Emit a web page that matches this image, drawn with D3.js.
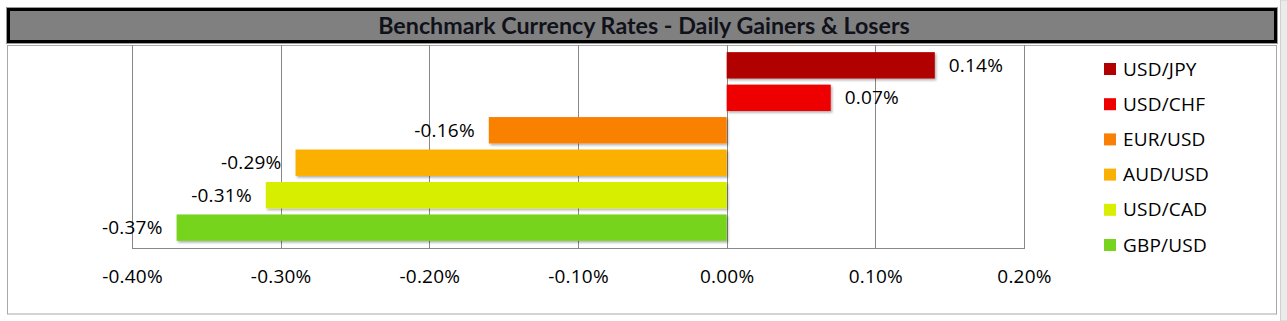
<!DOCTYPE html>
<html><head><meta charset="utf-8">
<script src="https://cdn.jsdelivr.net/npm/d3@7"></script>
<style>body{margin:0;background:#fff;overflow:hidden;} svg{display:block;}</style>
</head><body><svg id="chart" width="1287" height="321"></svg>
<script>
// ---- data ----
const title = "Benchmark Currency Rates - Daily Gainers & Losers";
const categories = ["USD/JPY", "USD/CHF", "EUR/USD", "AUD/USD", "USD/CAD", "GBP/USD"];
const values = [0.14, 0.07, -0.16, -0.29, -0.31, -0.37];   // percent
const colors = ["#B00000", "#EE0000", "#FA8005", "#FBB005", "#D8EE05", "#76D41E"];
const tickValues = [-0.40, -0.30, -0.20, -0.10, 0.00, 0.10, 0.20];

const TFONT = "Lato, 'Open Sans', sans-serif";
const FONT = "'Open Sans', 'Noto Sans', sans-serif";
const FS = 19;
const svg = d3.select("#chart");
const fmt = v => d3.formatLocale({decimal: ".", thousands: ",", grouping: [3], currency: ["", ""], minus: "-"}).format(".2f")(v) + "%";

// background pieces
svg.append("rect").attr("x", 1280.5).attr("y", 0).attr("width", 7).attr("height", 321)
  .attr("fill", "#ebebeb").attr("stroke", "#d0d0d0").attr("stroke-width", 1);
svg.append("rect").attr("x", 7.5).attr("y", 45.5).attr("width", 1269).attr("height", 268.5)
  .attr("fill", "#fff").attr("stroke", "#a8a8a8").attr("stroke-width", 1);

// title box
svg.append("rect").attr("x", 6.5).attr("y", 7.5).attr("width", 1271).attr("height", 36)
  .attr("fill", "none").attr("stroke", "#9a9a9a").attr("stroke-width", 1);
svg.append("rect").attr("x", 8.5).attr("y", 9.5).attr("width", 1267).attr("height", 32)
  .attr("fill", "#808080").attr("stroke", "#000").attr("stroke-width", 3);
const t = svg.append("text").attr("x", 644).attr("y", 26).attr("dy", "0.35em")
  .attr("text-anchor", "middle").attr("font-family", TFONT).attr("font-weight", "bold")
  .attr("font-size", 18).attr("fill", "#10121a").text(title);
// fit title width to reference (~532px)
const tw = t.node().getComputedTextLength();
t.attr("font-size", 18 * 532 / tw);

// scales
const x = d3.scaleLinear().domain([-0.4, 0.2]).range([132, 1024]);
const y = d3.scaleBand().domain(categories).range([45, 248]).paddingInner(0.187).paddingOuter(0.22);

// shadow filter
const defs = svg.append("defs");
const f = defs.append("filter").attr("id", "sh").attr("x", "-5%").attr("y", "-30%").attr("width", "110%").attr("height", "170%");
f.append("feDropShadow").attr("dx", 1.5).attr("dy", 1.8).attr("stdDeviation", 1.2)
  .attr("flood-color", "#000").attr("flood-opacity", 0.3);

// gridlines
svg.append("g").selectAll("line").data(tickValues).join("line")
  .attr("x1", d => Math.round(x(d)) + 0.5).attr("x2", d => Math.round(x(d)) + 0.5)
  .attr("y1", 45).attr("y2", 248)
  .attr("stroke", "#888").attr("stroke-width", 1);
// bottom axis line
svg.append("line").attr("x1", x(-0.4)).attr("x2", x(0.2) + 1).attr("y1", 248.5).attr("y2", 248.5)
  .attr("stroke", "#888").attr("stroke-width", 1);

// x axis labels via d3 axis
const ax = svg.append("g").attr("transform", "translate(0,276)")
  .call(d3.axisBottom(x).tickValues(tickValues).tickSize(0).tickPadding(0).tickFormat(fmt));
ax.select(".domain").remove();
ax.selectAll("text").attr("font-family", FONT).attr("font-size", FS).attr("fill", "#000")
  .attr("y", 0).attr("dy", "0.35em").attr("letter-spacing", 0.2);

// bars
const data = categories.map((c, i) => ({c, v: values[i], col: colors[i]}));
svg.append("g").selectAll("rect").data(data).join("rect")
  .attr("x", d => x(Math.min(0, d.v))).attr("width", d => Math.abs(x(d.v) - x(0)))
  .attr("y", d => y(d.c)).attr("height", y.bandwidth())
  .attr("fill", d => d.col).attr("filter", "url(#sh)");

// value labels
svg.append("g").selectAll("text").data(data).join("text")
  .attr("x", d => d.v >= 0 ? x(d.v) + 14 : x(d.v) - 14)
  .attr("y", d => y(d.c) + y.bandwidth() / 2).attr("dy", "0.35em")
  .attr("text-anchor", d => d.v >= 0 ? "start" : "end")
  .attr("font-family", FONT).attr("font-size", FS).attr("fill", "#000").attr("letter-spacing", 0.2)
  .text(d => fmt(d.v));

// legend
const lg = svg.append("g").selectAll("g").data(data).join("g")
  .attr("transform", (d, i) => `translate(1104,${69 + i * 35.2})`);
lg.append("rect").attr("x", 0).attr("y", -6).attr("width", 12).attr("height", 12).attr("fill", d => d.col);
lg.append("text").attr("x", 19).attr("y", 0).attr("dy", "0.35em")
  .attr("font-family", FONT).attr("font-size", FS).attr("fill", "#000").attr("letter-spacing", 0.2).text(d => d.c);
</script>
</body></html>
